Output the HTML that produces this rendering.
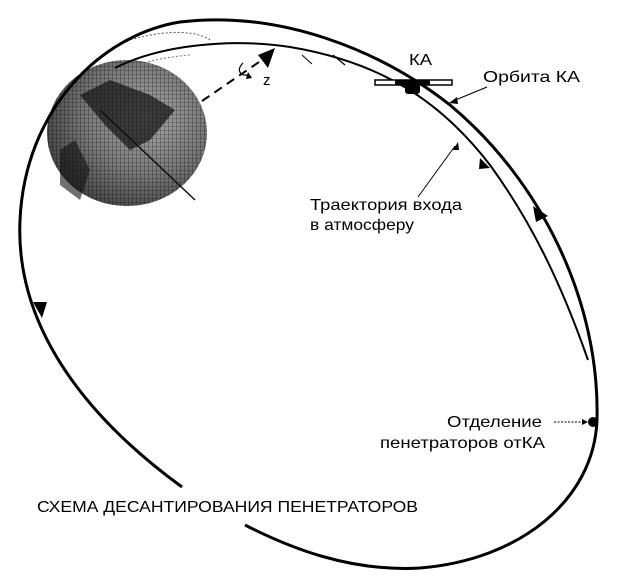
<!DOCTYPE html>
<html><head><meta charset="utf-8"><style>
html,body{margin:0;padding:0;background:#fff;}
svg{display:block;font-family:"Liberation Sans",sans-serif;}
</style></head><body>
<svg width="617" height="585" viewBox="0 0 617 585" xmlns="http://www.w3.org/2000/svg">
<defs>
<radialGradient id="g" cx="0.62" cy="0.4" r="0.75">
<stop offset="0" stop-color="#a8a8a8"/>
<stop offset="0.5" stop-color="#7a7a7a"/>
<stop offset="1" stop-color="#333"/>
</radialGradient>
<pattern id="h" width="4" height="4" patternUnits="userSpaceOnUse">
<rect width="1" height="4" fill="#000" opacity="0.25"/>
<rect width="4" height="1" y="2" fill="#000" opacity="0.2"/>
</pattern>
</defs>
<path d="M50,150 C55,100 80,60 130,40 C170,28 200,32 210,40" fill="none" stroke="#555" stroke-width="1" stroke-dasharray="2,2"/>
<path d="M60,120 C90,80 130,60 190,55" fill="none" stroke="#777" stroke-width="1" stroke-dasharray="2,2"/>
<ellipse cx="127" cy="133" rx="80" ry="73" fill="url(#g)"/>
<ellipse cx="127" cy="133" rx="80" ry="73" fill="url(#h)"/>
<path d="M80,95 L110,80 L150,95 L175,110 L150,140 L130,150 L105,125 Z" fill="#111" opacity="0.7"/>
<path d="M60,150 L75,140 L90,170 L80,200 L60,185 Z" fill="#111" opacity="0.6"/>
<line x1="100" y1="110" x2="195" y2="200" stroke="#111" stroke-width="1.5"/>
<path d="M182,487 C90,420 15,330 20,220 C25,110 100,35 180,22 C280,10 380,50 450,105 C540,180 600,300 597,420 C594,500 520,560 420,568 C350,572 290,548 245,525" fill="none" stroke="#000" stroke-width="3"/>
<path d="M115,68 C160,45 230,38 290,47 C380,62 440,100 490,165 C530,220 560,280 588,360" fill="none" stroke="#000" stroke-width="2"/>
<polygon points="533,206 548,216 536,222" fill="#000"/>
<polygon points="480,158 490,168 479,169" fill="#000"/>
<polygon points="33,302 47,302 42,318" fill="#000"/>
<line x1="202" y1="101" x2="262" y2="60" stroke="#000" stroke-width="2" stroke-dasharray="9,6"/>
<polygon points="275,48 258,55 268,68" fill="#000"/>
<path d="M243,63 C236,70 240,76 248,75" fill="none" stroke="#000" stroke-width="1.2"/>
<polygon points="248,72 252,78 246,79" fill="#000"/>
<text x="263" y="85" font-size="15">z</text>
<line x1="302" y1="55" x2="312" y2="64" stroke="#000" stroke-width="1"/>
<line x1="333" y1="55" x2="345" y2="65" stroke="#000" stroke-width="1.2"/>
<rect x="375" y="80" width="77" height="5" fill="#fff" stroke="#000" stroke-width="1.5"/>
<rect x="395" y="80" width="35" height="5" fill="#000"/>
<rect x="405" y="84" width="15" height="10" rx="3" fill="#000"/>
<text x="409" y="65" font-size="16" textLength="23" lengthAdjust="spacingAndGlyphs">КА</text>
<text x="483" y="82" font-size="16" textLength="97" lengthAdjust="spacingAndGlyphs">Орбита КА</text>
<line x1="487" y1="87" x2="453" y2="101" stroke="#000" stroke-width="1"/>
<polygon points="449,103 457,97 458,104" fill="#000"/>
<text x="310" y="210" font-size="16" textLength="152" lengthAdjust="spacingAndGlyphs">Траектория входа</text>
<text x="310" y="230" font-size="16" textLength="104" lengthAdjust="spacingAndGlyphs">в атмосферу</text>
<line x1="418" y1="197" x2="455" y2="146" stroke="#000" stroke-width="1"/>
<polygon points="458,142 453,150 459,150" fill="#000"/>
<circle cx="593" cy="422" r="5" fill="#000"/>
<line x1="554" y1="422" x2="584" y2="422" stroke="#000" stroke-width="1" stroke-dasharray="2,1.5"/>
<polygon points="588,422 582,419 582,425" fill="#000"/>
<text x="447" y="427" font-size="16" textLength="95" lengthAdjust="spacingAndGlyphs">Отделение</text>
<text x="380" y="448" font-size="16" textLength="165" lengthAdjust="spacingAndGlyphs">пенетраторов отКА</text>
<text x="37" y="512" font-size="16" textLength="381" lengthAdjust="spacingAndGlyphs">СХЕМА ДЕСАНТИРОВАНИЯ ПЕНЕТРАТОРОВ</text>
</svg>
</body></html>
